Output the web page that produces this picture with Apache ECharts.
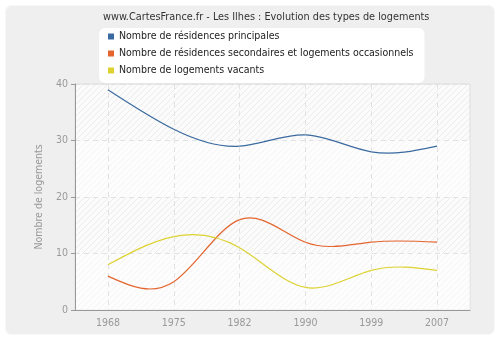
<!DOCTYPE html>
<html><head><meta charset="utf-8">
<script src="https://cdn.jsdelivr.net/npm/echarts@6/dist/echarts.min.js"></script>
<style>html,body{margin:0;padding:0;background:#fff}#c{width:500px;height:340px}</style>
</head><body><div id="c"></div>
<script>
const titleText = 'www.CartesFrance.fr - Les Ilhes : Evolution des types de logements';
const categories = ['1968', '1975', '1982', '1990', '1999', '2007'];
const seriesNames = ['Nombre de résidences principales', 'Nombre de résidences secondaires et logements occasionnels', 'Nombre de logements vacants'];
const principales = [39, 32, 29, 31, 28, 29];
const secondaires = [6, 5, 16, 12, 12, 12];
const vacants = [8, 13, 11, 4, 7, 7];
const yTicks = [0, 10, 20, 30, 40];
const colors = ['#3a6aa0', '#e4652e', '#ddd230'];
const FONT = '"DejaVu Sans Condensed", "DejaVu Sans", sans-serif';

// natural cubic spline second derivatives (unit spacing) for drawing the curve
function splineM(y) {
  const n = y.length, M = new Array(n).fill(0);
  if (n < 3) return M;
  const a = [], b = [], c = [], d = [];
  for (let i = 1; i < n - 1; i++) { a.push(1); b.push(4); c.push(1); d.push(6 * (y[i + 1] - 2 * y[i] + y[i - 1])); }
  const m = d.length;
  for (let i = 1; i < m; i++) { const w = a[i] / b[i - 1]; b[i] -= w * c[i - 1]; d[i] -= w * d[i - 1]; }
  const x = new Array(m);
  x[m - 1] = d[m - 1] / b[m - 1];
  for (let i = m - 2; i >= 0; i--) x[i] = (d[i] - c[i] * x[i + 1]) / b[i];
  for (let i = 0; i < m; i++) M[i + 1] = x[i];
  return M;
}

const pc = document.createElement('canvas');
pc.width = 6; pc.height = 6;
const g = pc.getContext('2d');
g.fillStyle = '#fbfbfb'; g.fillRect(0, 0, 6, 6);
g.strokeStyle = '#ececec'; g.lineWidth = 1;
g.beginPath(); g.moveTo(0, 6); g.lineTo(6, 0); g.moveTo(-1, 1); g.lineTo(1, -1); g.moveTo(5, 7); g.lineTo(7, 5); g.stroke();

const chart = echarts.init(document.getElementById('c'), null, {renderer: 'canvas'});
const dataSets = [principales, secondaires, vacants];

function makeSeries(values, i) {
  const M = splineM(values);
  return {
    name: seriesNames[i], type: 'custom', coordinateSystem: 'cartesian2d',
    data: values.map((v, k) => [k, v]),
    itemStyle: {color: colors[i]},
    encode: {x: 0, y: 1},
    renderItem: function (params, api) {
      const k = params.dataIndex;
      if (k >= values.length - 1) return null;
      const y0 = values[k], y1 = values[k + 1];
      const p0 = api.coord([k, y0]), p1 = api.coord([k + 1, y1]);
      const unit = api.coord([k, 0])[1] - api.coord([k, 1])[1];
      const d0 = (y1 - y0) - (2 * M[k] + M[k + 1]) / 6;
      const d1 = (y1 - y0) + (M[k] + 2 * M[k + 1]) / 6;
      const dx = p1[0] - p0[0];
      return {
        type: 'bezierCurve',
        shape: {
          x1: p0[0], y1: p0[1], x2: p1[0], y2: p1[1],
          cpx1: p0[0] + dx / 3, cpy1: p0[1] - unit * d0 / 3,
          cpx2: p1[0] - dx / 3, cpy2: p1[1] + unit * d1 / 3
        },
        style: {stroke: colors[i], fill: null, lineWidth: 1.2}
      };
    }
  };
}

chart.setOption({
  animation: false,
  backgroundColor: '#ffffff',
  graphic: [
    {type: 'rect', z: -10, shape: {x: 5.5, y: 5.5, width: 489, height: 329, r: 6}, style: {fill: '#efefef', stroke: '#f8f8f8', lineWidth: 1}},
    {type: 'rect', z: -9, shape: {x: 75, y: 84, width: 395, height: 226}, style: {fill: {image: pc, repeat: 'repeat'}}}
  ],
  title: {text: titleText, left: 103, top: 12, padding: 0, textStyle: {fontFamily: FONT, fontSize: 10.8, fontWeight: 'normal', color: '#333'}},
  legend: {
    orient: 'vertical', left: 99, top: 28,
    backgroundColor: '#ffffff', borderRadius: 6,
    padding: [3, 11, 7, 9], itemGap: 6,
    icon: 'rect', itemWidth: 6, itemHeight: 6,
    textStyle: {fontFamily: FONT, fontSize: 10.5, color: '#222'},
    data: seriesNames
  },
  grid: {left: 75, right: 30, top: 84, bottom: 30, show: true, borderColor: '#dddddd', borderWidth: 1, backgroundColor: 'transparent'},
  xAxis: {
    type: 'category', data: categories, boundaryGap: true,
    axisLine: {lineStyle: {color: '#999'}},
    axisTick: {alignWithLabel: true, length: 4, lineStyle: {color: '#999'}},
    axisLabel: {fontFamily: FONT, fontSize: 10.5, color: '#999', margin: 8},
    splitLine: {show: true, alignWithLabel: true, lineStyle: {color: '#e2e2e2', type: [5, 4]}}
  },
  yAxis: {
    type: 'value', min: yTicks[0], max: yTicks[yTicks.length - 1], interval: 10,
    name: 'Nombre de logements', nameLocation: 'middle', nameGap: 25,
    nameTextStyle: {fontFamily: FONT, fontSize: 10.5, color: '#999'},
    axisLine: {show: true, lineStyle: {color: '#999'}},
    axisTick: {show: true, length: 4, lineStyle: {color: '#999'}},
    axisLabel: {fontFamily: FONT, fontSize: 10.5, color: '#999', margin: 7},
    splitLine: {lineStyle: {color: '#e2e2e2', type: [5, 4]}},
    splitArea: {show: true, areaStyle: {color: ['rgba(255,255,255,0.45)', 'rgba(255,255,255,0)']}}
  },
  series: dataSets.map((d, i) => makeSeries(d, i))
});
</script></body></html>
